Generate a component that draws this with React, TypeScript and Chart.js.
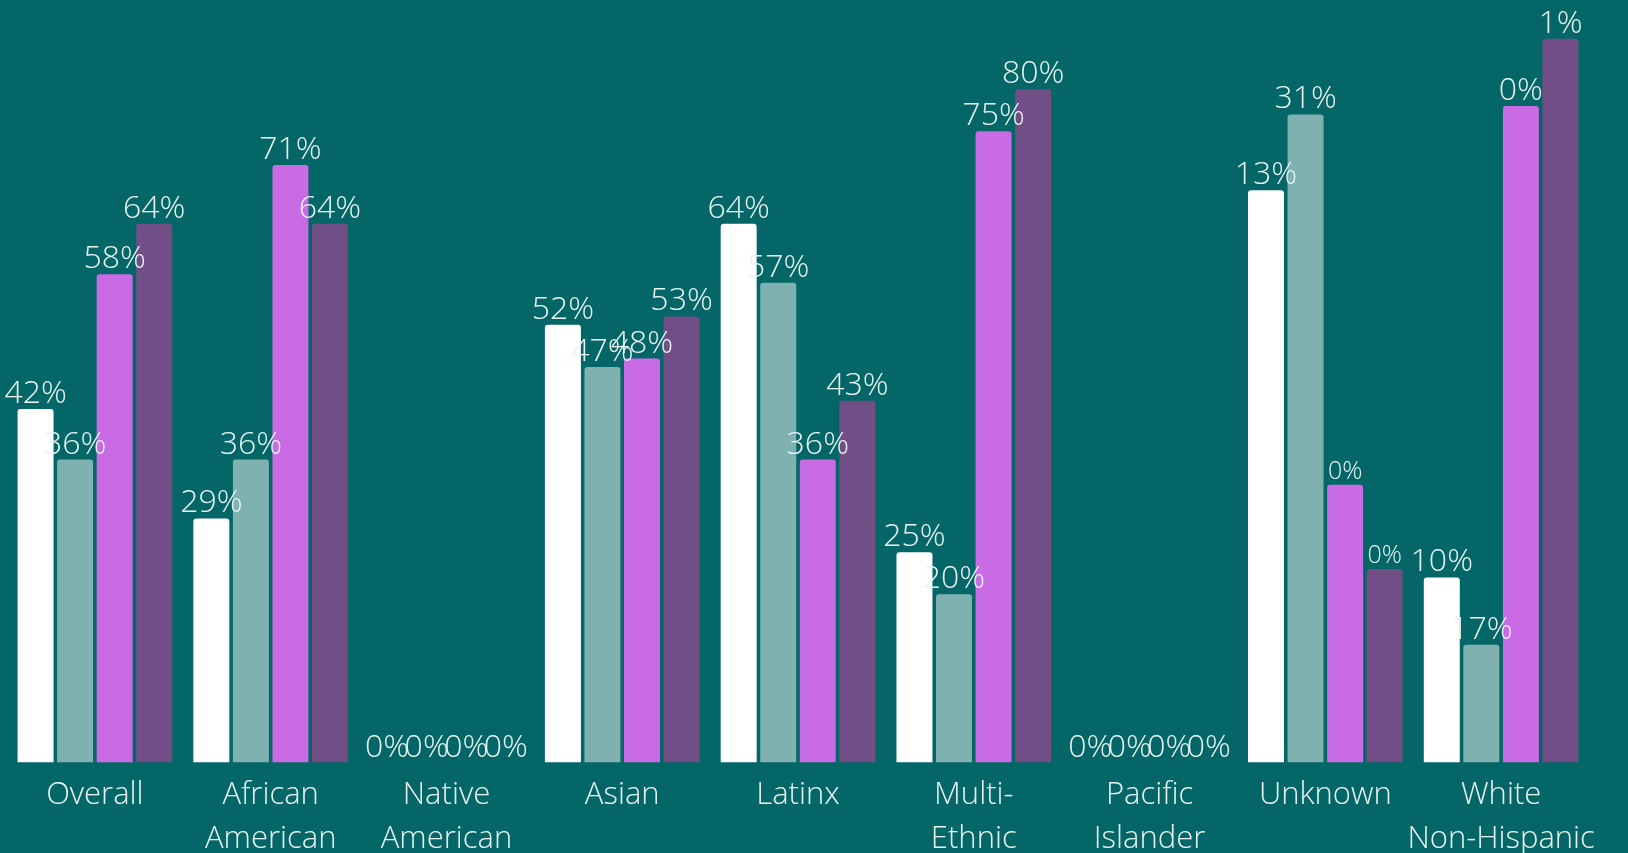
import React, { useEffect, useRef } from "react";
import { Chart, registerables } from "chart.js";

Chart.register(...registerables);

const CATEGORIES: (string | string[])[] = [
  "Overall",
  ["African", "American"],
  ["Native", "American"],
  "Asian",
  "Latinx",
  ["Multi-", "Ethnic"],
  ["Pacific", "Islander"],
  "Unknown",
  ["White", "Non-Hispanic"],
];

const SERIES_NAMES = ["Series 1", "Series 2", "Series 3", "Series 4"];

const WHITE_VALUES = [42, 29, 0, 52, 64, 25, 0, 68, 22];
const TEAL_VALUES = [36, 36, 0, 47, 57, 20, 0, 77, 14];
const MAGENTA_VALUES = [58, 71, 0, 48, 36, 75, 0, 33, 78];
const PURPLE_VALUES = [64, 64, 0, 53, 43, 80, 0, 23, 86];

const WHITE_LABELS = ["42%", "29%", "0%", "52%", "64%", "25%", "0%", "13%", "10%"];
const TEAL_LABELS = ["36%", "36%", "0%", "47%", "57%", "20%", "0%", "31%", "17%"];
const MAGENTA_LABELS = ["58%", "71%", "0%", "48%", "36%", "75%", "0%", "0%", "0%"];
const PURPLE_LABELS = ["64%", "64%", "0%", "53%", "43%", "80%", "0%", "0%", "1%"];

const Y_MAX = 90;

const BG = "#046666";
const TEXT_COLOR = "#e9f3f2";
const COLORS = ["#ffffff", "#80b1b1", "#c96be4", "#724e87"];
const FONT_FAMILY = '"Open Sans", "Noto Sans", sans-serif';

const ALL_VALUES = [WHITE_VALUES, TEAL_VALUES, MAGENTA_VALUES, PURPLE_VALUES];
const ALL_LABELS = [WHITE_LABELS, TEAL_LABELS, MAGENTA_LABELS, PURPLE_LABELS];

// labels drawn in a smaller size (dataset index, category index)
const SMALL_LABELS: [number, number][] = [
  [2, 7],
  [3, 7],
];

const CANVAS_W = 1628;
const CANVAS_H = 872;

const labelPlugin = {
  id: "barValueLabels",
  afterDatasetsDraw(chart: any) {
    const ctx = chart.ctx;
    ctx.save();
    ctx.fillStyle = TEXT_COLOR;
    ctx.textAlign = "center";
    ctx.textBaseline = "alphabetic";
    chart.data.datasets.forEach((_ds: any, di: number) => {
      const meta = chart.getDatasetMeta(di);
      meta.data.forEach((el: any, i: number) => {
        const small = SMALL_LABELS.some(([a, b]) => a === di && b === i);
        ctx.font = `300 ${small ? 25 : 32}px ${FONT_FAMILY}`;
        ctx.fillText(ALL_LABELS[di][i], el.x, el.y - 6);
      });
    });
    ctx.restore();
  },
};

export default function App() {
  const canvasRef = useRef<HTMLCanvasElement | null>(null);

  useEffect(() => {
    document.body.style.margin = "0";
    document.body.style.background = BG;
    document.body.style.overflow = "hidden";
    const canvas = canvasRef.current;
    if (!canvas) return;
    const chart = new Chart(canvas, {
      type: "bar",
      data: {
        labels: CATEGORIES,
        datasets: ALL_VALUES.map((vals, i) => ({
          label: SERIES_NAMES[i],
          data: vals,
          backgroundColor: COLORS[i],
          borderWidth: 0,
          borderRadius: 3,
          borderSkipped: "bottom",
          categoryPercentage: 0.9,
          barPercentage: 0.91,
        })),
      },
      options: {
        animation: false,
        responsive: false,
        maintainAspectRatio: false,
        layout: { padding: { left: 7, right: 39, top: 5, bottom: 0 } },
        plugins: {
          legend: { display: false },
          tooltip: { enabled: false },
          title: { display: false },
        },
        scales: {
          x: {
            grid: { display: false, drawTicks: false },
            border: { display: false },
            ticks: {
              color: TEXT_COLOR,
              padding: 11,
              maxRotation: 0,
              autoSkip: false,
              font: { family: FONT_FAMILY, size: 31, weight: "300", lineHeight: 1.41 },
            },
          },
          y: {
            display: false,
            min: 0,
            max: Y_MAX,
          },
        },
      },
      plugins: [labelPlugin],
    });
    return () => chart.destroy();
  }, []);

  return (
    <div style={{ width: CANVAS_W, height: CANVAS_H, background: BG, position: "relative" }}>
      <canvas
        ref={canvasRef}
        width={CANVAS_W}
        height={CANVAS_H}
        style={{ width: CANVAS_W, height: CANVAS_H, display: "block" }}
      />
    </div>
  );
}
